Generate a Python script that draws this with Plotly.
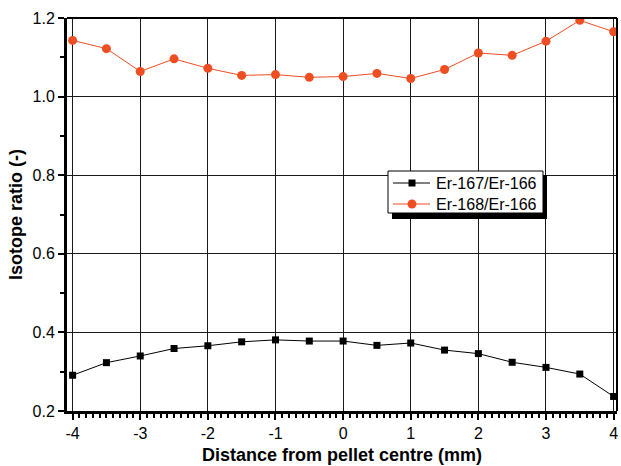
import plotly.graph_objects as go

# Radial position across the pellet (mm)
distance_mm = [-4.0, -3.5, -3.0, -2.5, -2.0, -1.5, -1.0, -0.5, 0.0,
               0.5, 1.0, 1.5, 2.0, 2.5, 3.0, 3.5, 4.0]

# Measured isotope ratios
er167_er166 = [0.291, 0.323, 0.340, 0.359, 0.366, 0.376, 0.381, 0.378, 0.378,
               0.367, 0.373, 0.355, 0.346, 0.324, 0.311, 0.294, 0.237]
er168_er166 = [1.143, 1.122, 1.064, 1.096, 1.072, 1.054, 1.056, 1.049, 1.051,
               1.059, 1.046, 1.069, 1.111, 1.105, 1.141, 1.194, 1.165]

series_names = ["Er-167/Er-166", "Er-168/Er-166"]

x_ticks = [-4, -3, -2, -1, 0, 1, 2, 3, 4]
y_ticks = [0.2, 0.4, 0.6, 0.8, 1.0, 1.2]
y_tick_labels = ["0.2", "0.4", "0.6", "0.8", "1.0", "1.2"]

FONT = "Liberation Sans, Arial, sans-serif"
RED = "#EE4E22"
W, H = 621, 466
M = dict(l=67, r=4, t=18, b=55)
PW = W - M["l"] - M["r"]
PH = H - M["t"] - M["b"]


def px_x(x):
    return (x - M["l"]) / PW


def px_y(y):
    return (H - M["b"] - y) / PH


fig = go.Figure()
fig.add_trace(go.Scatter(
    x=distance_mm, y=er167_er166, name=series_names[0],
    mode="lines+markers",
    line=dict(color="black", width=1),
    marker=dict(symbol="square", size=7, color="black"),
))
fig.add_trace(go.Scatter(
    x=distance_mm, y=er168_er166, name=series_names[1],
    mode="lines+markers",
    line=dict(color=RED, width=1),
    marker=dict(symbol="circle", size=9, color=RED),
))

shapes = []
# Frame: top and right border lines
shapes.append(dict(type="line", xref="paper", yref="paper", x0=0, x1=1, y0=1, y1=1,
                   line=dict(color="black", width=2), layer="above"))
shapes.append(dict(type="line", xref="paper", yref="paper", x0=1, x1=1, y0=0, y1=1,
                   line=dict(color="black", width=2), layer="above"))

# Legend box with a drop shadow
shapes.append(dict(type="rect", xref="paper", yref="paper",
                   x0=px_x(392), x1=px_x(547), y0=px_y(219), y1=px_y(175),
                   fillcolor="black", line=dict(width=0), layer="above"))
shapes.append(dict(type="rect", xref="paper", yref="paper",
                   x0=px_x(388), x1=px_x(543), y0=px_y(213), y1=px_y(171),
                   fillcolor="white", line=dict(color="black", width=1), layer="above"))

legend_rows = [
    (183, "black", "rect", 3.5),
    (204, RED, "circle", 4.5),
]
annotations = []
for name, (ry, col, kind, half) in zip(series_names, legend_rows):
    shapes.append(dict(type="line", xref="paper", yref="paper",
                       x0=px_x(393), x1=px_x(430), y0=px_y(ry), y1=px_y(ry),
                       line=dict(color=col, width=1), layer="above"))
    shapes.append(dict(type=kind, xref="paper", yref="paper",
                       xsizemode="pixel", ysizemode="pixel",
                       xanchor=px_x(412), yanchor=px_y(ry),
                       x0=-half, x1=half, y0=-half, y1=half,
                       fillcolor=col, line=dict(width=0), layer="above"))
    annotations.append(dict(xref="paper", yref="paper", x=px_x(434), y=px_y(ry),
                            xanchor="left", yanchor="middle", showarrow=False,
                            text=name, font=dict(family=FONT, size=16, color="black")))

fig.update_layout(
    width=W, height=H,
    margin=M,
    paper_bgcolor="white", plot_bgcolor="white",
    font=dict(family=FONT, size=16, color="black"),
    showlegend=False,
    shapes=shapes,
    annotations=annotations,
)

fig.update_xaxes(
    range=[-4.083, 4.05],
    tickmode="array", tickvals=x_ticks, ticktext=[str(v) for v in x_ticks],
    showgrid=True, gridcolor="#1a1a1a", gridwidth=1,
    zeroline=False,
    showline=True, linecolor="black", linewidth=3,
    ticks="outside", ticklen=6, tickwidth=2, tickcolor="black",
    minor=dict(dtick=0.1, ticks="outside", ticklen=4, tickwidth=2,
               tickcolor="black", showgrid=False),
    tickfont=dict(size=16),
    title=dict(text="<b>Distance from pellet centre (mm)</b>",
               font=dict(size=18), standoff=8),
)
fig.update_yaxes(
    range=[0.2, 1.2],
    tickmode="array", tickvals=y_ticks, ticktext=y_tick_labels,
    showgrid=True, gridcolor="#1a1a1a", gridwidth=1,
    zeroline=False,
    showline=True, linecolor="black", linewidth=3,
    ticks="outside", ticklen=6, tickwidth=2, tickcolor="black",
    minor=dict(dtick=0.1, ticks="outside", ticklen=4, tickwidth=2,
               tickcolor="black", showgrid=False),
    tickfont=dict(size=16),
    title=dict(text="<b>Isotope ratio (-)</b>", font=dict(size=18), standoff=6),
)

fig.write_html("out.html")
